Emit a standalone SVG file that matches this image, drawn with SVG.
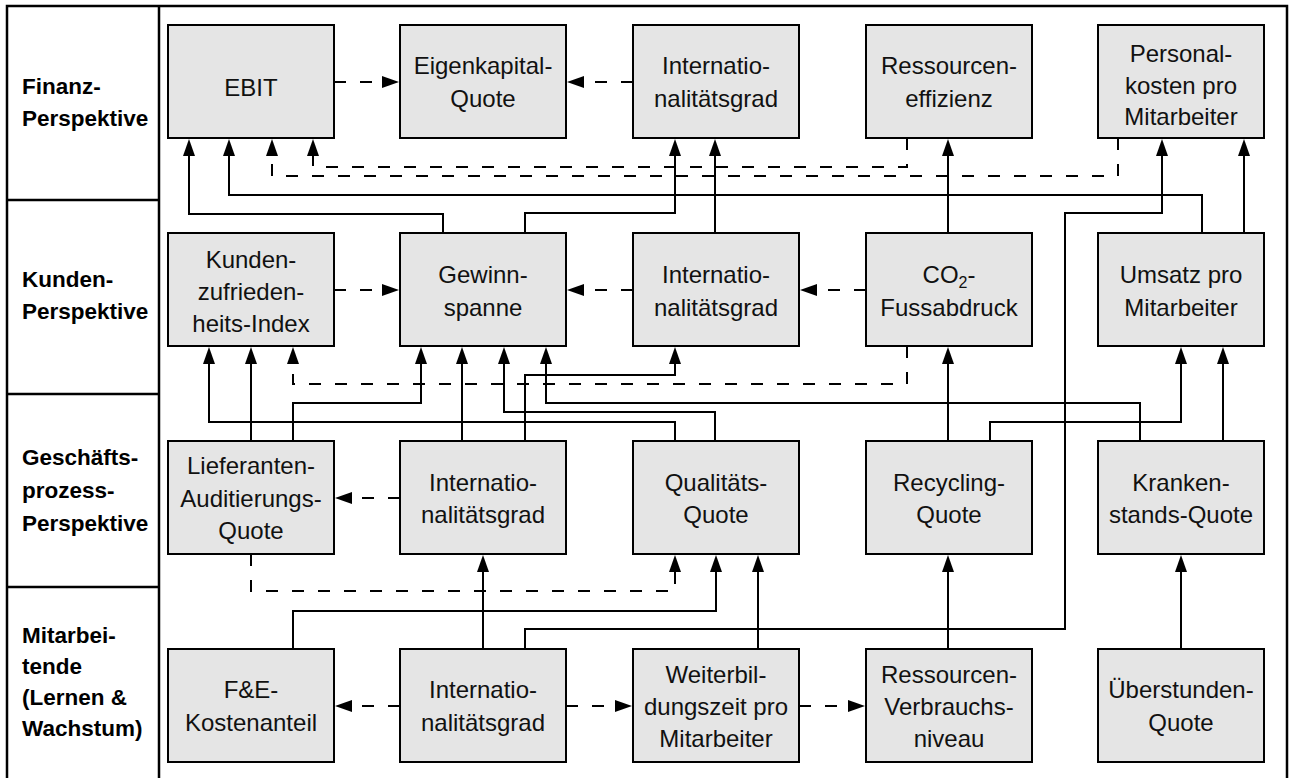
<svg xmlns="http://www.w3.org/2000/svg" width="1293" height="778" viewBox="0 0 1293 778">
  <style>
    .frame { fill: none; stroke: #000; stroke-width: 2.5; }
    .node rect { fill: #e5e5e5; stroke: #000; stroke-width: 2; }
    .node text { font-family: "Liberation Sans", Arial, sans-serif; font-size: 24px; fill: #111; text-anchor: middle; }
    .lane { font-family: "Liberation Sans", Arial, sans-serif; font-size: 22.5px; font-weight: bold; fill: #000; }
    .c { fill: none; stroke: #000; stroke-width: 2; marker-end: url(#arrow); }
    .d { stroke-dasharray: 12 14; }
  </style>
  <defs>
    <marker id="arrow" markerUnits="userSpaceOnUse" markerWidth="17" markerHeight="12" refX="14" refY="6" orient="auto">
      <path d="M0,0 L17,6 L0,12 Z" fill="#000"/>
    </marker>
  </defs>
  <rect width="1293" height="778" fill="#fff"/>

  <!-- lane frame -->
  <g id="frame">
    <path class="frame" d="M7,780 V6 H1287 V780 M159,6 V780 M7,200 H159 M7,394 H159 M7,587 H159"/>
    <text class="lane" x="22" y="94">Finanz-</text>
    <text class="lane" x="22" y="126">Perspektive</text>
    <text class="lane" x="22" y="287">Kunden-</text>
    <text class="lane" x="22" y="319">Perspektive</text>
    <text class="lane" x="22" y="465">Geschäfts-</text>
    <text class="lane" x="22" y="498">prozess-</text>
    <text class="lane" x="22" y="531">Perspektive</text>
    <text class="lane" x="22" y="643">Mitarbei-</text>
    <text class="lane" x="22" y="674">tende</text>
    <text class="lane" x="22" y="705">(Lernen &amp;</text>
    <text class="lane" x="22" y="736">Wachstum)</text>
  </g>

  <!-- connectors -->
  <g id="connectors">
    <!-- Finanz row inputs -->
    <path class="c" d="M443,233 V214 H189 V142"/>
    <path class="c" d="M1202,233 V195 H229 V142"/>
    <path class="c d" d="M1118,138 V176 H272 V142"/>
    <path class="c d" d="M907,138 V167 H313 V142"/>
    <path class="c" d="M525,233 V213 H675 V142"/>
    <path class="c" d="M715,233 V142"/>
    <path class="c" d="M948,233 V142"/>
    <path class="c" d="M525,649 V629 H1065 V213 H1162 V142"/>
    <path class="c" d="M1244,233 V142"/>
    <!-- Kunden row inputs -->
    <path class="c" d="M675,441 V422 H209 V350"/>
    <path class="c" d="M251,441 V350"/>
    <path class="c d" d="M907,346 V384 H293 V350"/>
    <path class="c" d="M293,441 V403 H421 V350"/>
    <path class="c" d="M462,441 V350"/>
    <path class="c" d="M715,441 V412 H504 V350"/>
    <path class="c" d="M1140,441 V403 H546 V350"/>
    <path class="c" d="M525,441 V375 H675 V350"/>
    <path class="c" d="M948,441 V350"/>
    <path class="c" d="M990,441 V422 H1181 V350"/>
    <path class="c" d="M1223,441 V350"/>
    <!-- Prozess row inputs -->
    <path class="c d" d="M251,554 V591 H675 V558"/>
    <path class="c" d="M293,649 V611 H716 V558"/>
    <path class="c" d="M483,649 V558"/>
    <path class="c" d="M758,649 V558"/>
    <path class="c" d="M948,649 V558"/>
    <path class="c" d="M1181,649 V558"/>
    <!-- links within a row -->
    <path class="c d" d="M334,82 H396"/>
    <path class="c d" d="M633,82 H570"/>
    <path class="c d" d="M334,290 H396"/>
    <path class="c d" d="M633,290 H570"/>
    <path class="c d" d="M866,290 H803"/>
    <path class="c d" d="M400,498 H338"/>
    <path class="c d" d="M400,706 H338"/>
    <path class="c d" d="M566,706 H629"/>
    <path class="c d" d="M799,706 H862"/>
  </g>

  <!-- Finanz-Perspektive -->
  <g id="ebit" class="node"><rect x="168" y="25" width="166" height="113"/><text x="251" y="96">EBIT</text></g>
  <g id="eigenkapital" class="node"><rect x="400" y="25" width="166" height="113"/><text x="483" y="74">Eigenkapital-</text><text x="483" y="107">Quote</text></g>
  <g id="intl-finanz" class="node"><rect x="633" y="25" width="166" height="113"/><text x="716" y="74">Internatio-</text><text x="716" y="107">nalitätsgrad</text></g>
  <g id="ressourceneffizienz" class="node"><rect x="866" y="25" width="166" height="113"/><text x="949" y="74">Ressourcen-</text><text x="949" y="107">effizienz</text></g>
  <g id="personalkosten" class="node"><rect x="1098" y="25" width="166" height="113"/><text x="1181" y="62">Personal-</text><text x="1181" y="94">kosten pro</text><text x="1181" y="125">Mitarbeiter</text></g>

  <!-- Kunden-Perspektive -->
  <g id="kundenzufriedenheit" class="node"><rect x="168" y="233" width="166" height="113"/><text x="251" y="268">Kunden-</text><text x="251" y="300">zufrieden-</text><text x="251" y="332">heits-Index</text></g>
  <g id="gewinnspanne" class="node"><rect x="400" y="233" width="166" height="113"/><text x="483" y="283">Gewinn-</text><text x="483" y="316">spanne</text></g>
  <g id="intl-kunden" class="node"><rect x="633" y="233" width="166" height="113"/><text x="716" y="283">Internatio-</text><text x="716" y="316">nalitätsgrad</text></g>
  <g id="co2" class="node"><rect x="866" y="233" width="166" height="113"/><text x="949" y="283">CO<tspan font-size="16" dy="5">2</tspan><tspan dy="-5">-</tspan></text><text x="949" y="316">Fussabdruck</text></g>
  <g id="umsatz" class="node"><rect x="1098" y="233" width="166" height="113"/><text x="1181" y="283">Umsatz pro</text><text x="1181" y="316">Mitarbeiter</text></g>

  <!-- Geschäftsprozess-Perspektive -->
  <g id="lieferanten" class="node"><rect x="168" y="441" width="166" height="113"/><text x="251" y="474">Lieferanten-</text><text x="251" y="507">Auditierungs-</text><text x="251" y="539">Quote</text></g>
  <g id="intl-prozess" class="node"><rect x="400" y="441" width="166" height="113"/><text x="483" y="491">Internatio-</text><text x="483" y="523">nalitätsgrad</text></g>
  <g id="qualitaet" class="node"><rect x="633" y="441" width="166" height="113"/><text x="716" y="491">Qualitäts-</text><text x="716" y="523">Quote</text></g>
  <g id="recycling" class="node"><rect x="866" y="441" width="166" height="113"/><text x="949" y="491">Recycling-</text><text x="949" y="523">Quote</text></g>
  <g id="krankenstand" class="node"><rect x="1098" y="441" width="166" height="113"/><text x="1181" y="491">Kranken-</text><text x="1181" y="523">stands-Quote</text></g>

  <!-- Mitarbeitende (Lernen & Wachstum) -->
  <g id="fe-kosten" class="node"><rect x="168" y="649" width="166" height="113"/><text x="251" y="698">F&amp;E-</text><text x="251" y="731">Kostenanteil</text></g>
  <g id="intl-lernen" class="node"><rect x="400" y="649" width="166" height="113"/><text x="483" y="698">Internatio-</text><text x="483" y="731">nalitätsgrad</text></g>
  <g id="weiterbildung" class="node"><rect x="633" y="649" width="166" height="113"/><text x="716" y="683">Weiterbil-</text><text x="716" y="715">dungszeit pro</text><text x="716" y="747">Mitarbeiter</text></g>
  <g id="ressourcenverbrauch" class="node"><rect x="866" y="649" width="166" height="113"/><text x="949" y="683">Ressourcen-</text><text x="949" y="715">Verbrauchs-</text><text x="949" y="747">niveau</text></g>
  <g id="ueberstunden" class="node"><rect x="1098" y="649" width="166" height="113"/><text x="1181" y="698">Überstunden-</text><text x="1181" y="731">Quote</text></g>
</svg>
